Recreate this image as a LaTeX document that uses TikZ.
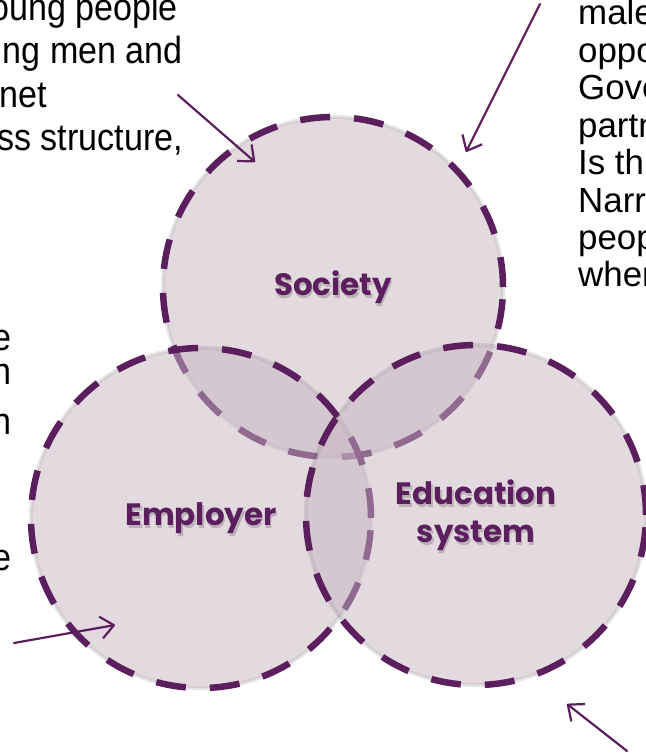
\documentclass[tikz,border=0pt]{standalone}
\usepackage{fontspec}
\setmainfont{Liberation Sans}
\newfontfamily\labelfont{Poppins}
\newfontfamily\narrowfont{Liberation Sans}[FakeStretch=0.9]
\usetikzlibrary{arrows.meta}

\definecolor{plum}{RGB}{91,31,93}
\definecolor{mauve}{RGB}{199,181,193}

\newcommand\diam{340bp}
\newcommand\rowsep{37.4}

\tikzset{
  venn/.style={circle, minimum size=\diam, inner sep=0pt,
    fill=mauve, fill opacity=0.5, draw=plum, line width=6.5bp,
    dash pattern=on 30bp off 24bp,
    preaction={draw=black, draw opacity=0.1, line width=4bp, solid}},
  lbl/.style={font=\labelfont\bfseries\fontsize{31}{38}\selectfont,
    text=plum, align=center, inner sep=0pt},
  lblshadow/.style={lbl, text=black, text opacity=0.18},
  body/.style={font=\fontsize{35}{37}\selectfont, inner sep=0pt, anchor=base west},
  bigbody/.style={font=\narrowfont\fontsize{38}{43}\selectfont, inner sep=0pt, anchor=base east},
  arr/.style={draw=plum, line width=2.2bp, line cap=round,
    -{Straight Barb[length=13bp,width=22bp,line join=round]}}
}

\begin{document}
\begin{tikzpicture}[x=1bp,y=-1bp]
  \useasboundingbox (0,0) rectangle (646,755);
  \clip (0,0) rectangle (646,755);

  % circles
  \node[venn] (society) at (333,287) {};
  \node[venn] (employer) at (201,518) {};
  \node[venn] (education) at (476,515) {};

  \node[lblshadow] at ([shift={(1.5,3)}]society) {Society};
  \node[lbl] (societylbl) at (society) {Society};
  \node[lblshadow] at ([shift={(1.5,3)}]employer) {Employer};
  \node[lbl] (employerlbl) at (employer) {Employer};
  \node[lblshadow] at ([shift={(1.5,3)}]education) {Education\\system};
  \node[lbl] (educationlbl) at (education) {Education\\system};

  % text cut off at the edges
  \node[bigbody] (tl1) at (178,21) {oung people};
  \node[bigbody] (tl2) at (183,64) {ng men and};
  \node[bigbody] (tl3) at (47,107) {net};
  \node[bigbody] (tl4) at (183,150.5) {ss structure,};

  \foreach \txt [count=\i] in {male,oppo,Gove,partn,Is th,Narr,peop,wher}
    \node[body] (tr\i) at (578,{25+(\i-1)*\rowsep}) {\txt};

  \node[bigbody] (ml1) at (12,350) {e};
  \node[bigbody] (ml2) at (12,384) {n};
  \node[bigbody] (ml3) at (12,434) {n};
  \node[bigbody] (ml4) at (12,570) {e};

  % arrows
  \coordinate (a1s) at (178,95);
  \coordinate (a1e) at (255,162);
  \coordinate (a2s) at (540,4);
  \coordinate (a2e) at (466,152);
  \coordinate (a3s) at (14,643);
  \coordinate (a3e) at (115,625);
  \coordinate (a4s) at (627,751);
  \coordinate (a4e) at (567,704);
  \draw[arr] (a1s) -- (a1e);
  \draw[arr] (a2s) -- (a2e);
  \draw[arr] (a3s) -- (a3e);
  \draw[arr] (a4s) -- (a4e);
\end{tikzpicture}
\end{document}
